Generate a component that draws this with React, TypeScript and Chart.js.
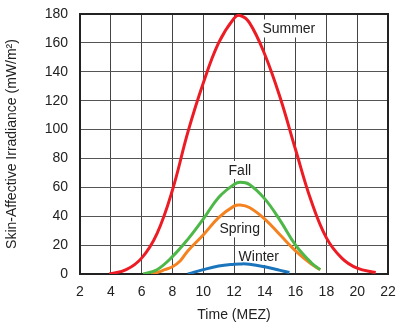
import React, { useEffect, useRef } from "react";
import { Chart, registerables } from "chart.js";

Chart.register(...registerables);

const summerX = [3.9, 5, 6, 7, 8, 9, 10, 11, 12, 12.4, 13, 14, 15, 16, 17, 18, 19, 20, 21.2];
const summerY = [0, 3, 11, 28, 58, 98, 132, 160, 177, 179, 174, 152, 122, 86, 51, 25, 11, 4, 1];

const fallX = [6.1, 7, 8, 9, 10, 11, 12, 12.4, 13, 14, 15, 16, 17, 17.6];
const fallY = [0, 3, 12, 24, 38, 53, 62, 63.5, 62, 52, 37, 20, 8, 3];

const springX = [6.6, 7, 7.5, 8, 8.5, 9, 10, 11, 12, 12.4, 13, 14, 15, 16, 17, 17.6];
const springY = [0, 1, 3, 5, 9, 16, 27, 39, 47, 47.8, 46, 38, 27, 16, 7, 3];

const winterX = [9, 10, 11, 12, 12.4, 13, 14, 15, 15.6];
const winterY = [0, 3, 5.5, 6.8, 7, 6.8, 5, 2.5, 1];

const seriesNames = ["Summer", "Fall", "Spring", "Winter"];
const seriesColors = ["#ed1c24", "#4db848", "#f58220", "#1b75bc"];

const labelX = [15.56, 12.38, 12.37, 13.61];
const labelY = [170, 72, 31.6, 12.5];

const xTicks = [2, 4, 6, 8, 10, 12, 14, 16, 18, 20, 22];
const yTicks = [0, 20, 40, 60, 80, 100, 120, 140, 160, 180];

const xTitle = "Time (MEZ)";
const yTitle = "Skin-Affective Irradiance (mW/m\u00b2)";

const toPoints = (xs: number[], ys: number[]) => xs.map((x, i) => ({ x, y: ys[i] }));

const FONT = "'Liberation Sans', Arial, sans-serif";

const labelPlugin = {
  id: "seriesLabels",
  beforeDatasetsDraw(chart: any) {
    const { ctx, scales, chartArea } = chart;
    ctx.save();
    ctx.font = `14px ${FONT}`;
    ctx.textAlign = "center";
    ctx.textBaseline = "middle";
    seriesNames.forEach((name, i) => {
      const px = scales.x.getPixelForValue(labelX[i]);
      const py = scales.y.getPixelForValue(labelY[i]);
      const w = ctx.measureText(name).width + 4;
      ctx.fillStyle = "#ffffff";
      ctx.fillRect(px - w / 2, py - 9, w, 18);
      ctx.fillStyle = "#222222";
      ctx.fillText(name, px, py + 1);
    });
    ctx.strokeStyle = "#222222";
    ctx.lineWidth = 2;
    ctx.strokeRect(chartArea.left, chartArea.top, chartArea.right - chartArea.left, chartArea.bottom - chartArea.top);
    ctx.restore();
  },
};

export default function App() {
  const ref = useRef<HTMLCanvasElement | null>(null);
  useEffect(() => {
    if (!ref.current) return;
    const datasets = [
      toPoints(summerX, summerY),
      toPoints(fallX, fallY),
      toPoints(springX, springY),
      toPoints(winterX, winterY),
    ].map((data, i) => ({
      label: seriesNames[i],
      data,
      borderColor: seriesColors[i],
      backgroundColor: seriesColors[i],
      borderWidth: 3,
      pointRadius: 0,
      tension: 0.4,
      fill: false,
    }));
    const chart = new Chart(ref.current, {
      type: "line",
      data: { datasets },
      plugins: [labelPlugin],
      options: {
        responsive: false,
        animation: false,
        layout: { padding: { top: 14, right: 17, left: 0, bottom: 0 } },
        plugins: { legend: { display: false }, tooltip: { enabled: false } },
        scales: {
          x: {
            type: "linear",
            min: 2,
            max: 22,
            afterFit: (s: any) => { s.height = 57; s.paddingLeft = 0; s.paddingRight = 0; },
            afterBuildTicks: (s: any) => { s.ticks = xTicks.map((v) => ({ value: v })); },
            grid: { color: "#444", lineWidth: 1, drawTicks: false },
            border: { display: false },
            ticks: { padding: 10, color: "#222", font: { size: 14, family: FONT } },
            title: { display: true, text: xTitle, color: "#222", font: { size: 14, family: FONT }, padding: { top: 0, bottom: 7 } },
          },
          y: {
            type: "linear",
            min: 0,
            max: 180,
            afterFit: (s: any) => { s.width = 80; s.paddingTop = 0; s.paddingBottom = 0; },
            afterBuildTicks: (s: any) => { s.ticks = yTicks.map((v) => ({ value: v })); },
            grid: { color: "#555", lineWidth: 1, drawTicks: false },
            border: { display: false },
            ticks: { padding: 12, color: "#222", font: { size: 14, family: FONT } },
            title: { display: true, text: yTitle, color: "#222", font: { size: 14, family: FONT }, padding: { top: 4, bottom: 4 } },
          },
        },
      },
    });
    return () => chart.destroy();
  }, []);
  return (
    <div style={{ position: "fixed", left: 0, top: 0, width: 405, height: 331, background: "#fff" }}>
      <canvas ref={ref} width={405} height={331} />
    </div>
  );
}
